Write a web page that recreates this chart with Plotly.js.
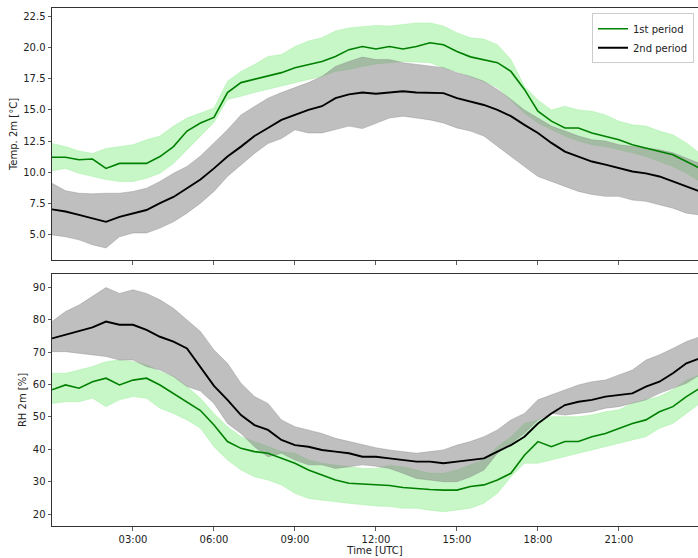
<!DOCTYPE html>
<html>
<head>
<meta charset="utf-8">
<script src="https://cdn.plot.ly/plotly-3.0.1.min.js"></script>
<style>html,body{margin:0;padding:0;background:#fff;}#chart{width:698px;height:558px;}</style>
</head>
<body>
<div id="chart"></div>
<script>
// Time of day in hours (UTC)
const hours = [0,0.5,1,1.5,2,2.5,3,3.5,4,4.5,5,5.5,6,6.5,7,7.5,8,8.5,9,9.5,10,10.5,11,11.5,12,12.5,13,13.5,14,14.5,15,15.5,16,16.5,17,17.5,18,18.5,19,19.5,20,20.5,21,21.5,22,22.5,23,23.5,24];
const tickHours = [3,6,9,12,15,18,21];
const tickLabels = ['03:00','06:00','09:00','12:00','15:00','18:00','21:00'];
const seriesNames = ['1st period','2nd period'];

// Temperature 2m [°C] - 1st period (mean, upper, lower)
const temp1Mean  = [11.2,11.2,11.0,11.05,10.3,10.7,10.7,10.7,11.25,12.05,13.3,13.95,14.4,16.4,17.2,17.45,17.7,18.0,18.4,18.65,18.9,19.3,19.85,20.1,19.9,20.1,19.9,20.1,20.4,20.25,19.7,19.27,19.05,18.8,18.1,16.65,14.9,14.1,13.55,13.55,13.15,12.9,12.6,12.2,11.95,11.65,11.4,10.85,10.3];
const temp1Upper = [12.3,12.05,11.7,11.5,11.9,12.05,12.2,12.6,12.9,13.7,14.35,14.75,15.15,17.3,18.1,18.65,19.3,19.45,20.1,20.55,20.8,21.35,21.6,21.7,21.8,21.75,21.9,22.0,22.0,21.75,21.2,20.8,20.7,20.25,19.05,16.9,15.8,15.0,15.3,15.0,14.9,14.6,14.1,13.8,13.7,13.3,13.0,12.35,11.5];
const temp1Lower = [10.1,10.3,9.9,9.65,9.4,9.25,9.25,9.5,9.9,10.7,11.8,12.9,14.0,15.85,16.1,16.4,16.65,16.9,17.2,17.45,17.7,18.1,18.25,18.5,18.7,18.8,18.9,18.85,18.8,18.4,18.1,17.7,17.3,16.8,15.8,14.75,13.95,13.4,12.9,12.5,12.2,12.05,11.8,11.55,11.25,10.85,10.45,9.9,9.25];
// Temperature 2m [°C] - 2nd period
const temp2Mean  = [7.0,6.83,6.56,6.3,6.0,6.4,6.7,6.95,7.5,8.0,8.7,9.4,10.3,11.25,12.05,12.9,13.55,14.2,14.6,15.0,15.3,15.95,16.25,16.4,16.3,16.4,16.5,16.4,16.4,16.35,15.95,15.7,15.4,15.0,14.5,13.8,13.15,12.35,11.65,11.25,10.85,10.6,10.3,10.05,9.9,9.65,9.25,8.85,8.45];
const temp2Upper = [9.1,8.5,8.3,8.25,8.3,8.3,8.45,8.7,9.25,9.9,10.45,11.3,12.35,13.4,14.6,15.3,15.95,16.4,16.8,17.2,17.7,18.5,18.9,19.25,19.05,19.05,18.8,18.65,18.5,18.4,18.0,17.7,17.3,16.65,15.85,15.0,14.35,13.7,13.3,12.9,12.6,12.5,12.2,12.05,11.95,11.8,11.55,11.1,10.7];
const temp2Lower = [4.95,4.8,4.55,4.15,3.9,4.8,5.1,5.1,5.5,6.0,6.7,7.5,8.45,9.65,10.6,11.5,12.3,12.7,13.4,13.15,13.15,13.4,13.7,13.5,13.9,14.35,14.5,14.35,14.2,13.95,13.55,13.3,12.9,12.05,11.25,10.45,9.65,9.25,8.85,8.45,8.2,8.05,8.05,7.75,7.65,7.35,7.1,6.7,6.55];

// Relative humidity 2m [%] - 1st period
const rh1Mean  = [58.4,59.9,58.9,60.9,62.0,59.9,61.4,62.0,59.9,57.3,54.7,52.0,47.5,42.4,40.3,39.3,38.8,37.2,35.7,33.6,32.1,30.5,29.5,29.3,29.0,28.8,28.2,27.8,27.6,27.4,27.4,28.5,29.0,30.5,32.6,38.2,42.4,40.8,42.4,42.4,43.9,44.9,46.5,48.0,49.1,51.6,53.2,56.3,58.9];
const rh1Upper = [63.5,63.5,64.5,65.6,67.1,67.6,67.1,66.1,64.0,62.5,59.4,55.8,51.1,47.0,43.9,42.4,40.8,39.3,38.8,36.7,35.7,35.2,34.6,34.1,34.1,35.0,34.6,33.6,32.6,32.6,33.6,35.2,36.7,40.8,43.9,48.0,49.1,50.1,50.1,50.1,50.6,51.6,52.2,54.2,55.3,56.3,58.4,61.4,63.0];
const rh1Lower = [54.2,54.7,54.7,55.8,53.2,55.3,56.3,55.8,52.7,51.1,49.1,46.5,40.8,36.7,33.6,31.5,30.5,29.0,26.4,24.8,24.3,23.8,23.3,22.8,22.5,22.3,21.8,21.8,21.2,20.7,21.2,21.8,23.3,26.4,31.5,35.7,35.7,36.7,37.7,38.8,39.8,40.8,41.9,42.9,43.9,46.5,48.0,51.1,54.2];
// Relative humidity 2m [%] - 2nd period
const rh2Mean  = [74.3,75.4,76.4,77.7,79.5,78.5,78.5,76.9,74.8,73.3,71.2,65.5,59.6,55.3,50.6,47.5,46.0,42.9,41.3,40.8,39.8,39.3,38.8,37.7,37.7,37.2,36.7,36.2,36.2,35.7,36.2,36.7,37.2,39.3,41.3,43.9,48.0,51.1,53.7,54.7,55.3,56.3,56.8,57.3,59.4,60.9,63.5,66.6,68.1];
const rh2Upper = [79.5,82.6,84.6,87.2,90.0,88.2,89.3,88.2,86.2,83.6,80.0,76.4,70.7,66.6,60.4,56.3,54.2,49.1,47.0,46.0,44.9,43.4,42.4,41.3,40.5,39.8,39.3,38.8,39.3,39.8,41.3,42.4,43.9,46.0,49.1,51.1,55.3,56.8,58.4,59.9,60.9,61.4,63.0,64.5,67.6,69.2,71.2,73.3,74.8];
const rh2Lower = [70.2,70.2,69.7,69.2,68.7,67.6,67.6,65.6,64.5,62.5,59.4,58.0,54.2,48.0,44.9,40.8,37.7,38.8,36.7,35.2,35.2,34.1,34.6,35.2,34.8,34.1,32.6,31.0,30.5,30.0,30.0,31.5,33.6,38.8,41.9,44.9,49.1,51.1,50.6,51.1,51.6,52.7,53.2,54.2,55.3,57.3,58.9,60.4,63.0];

const FONT = 'DejaVu Sans, Liberation Sans, sans-serif';
const bandGreen = 'rgba(144,238,144,0.5)';
const bandGray = 'rgba(128,128,128,0.5)';

function band(x, up, lo, color, xa, ya) {
  const xs = x.concat(x.slice().reverse());
  const ys = up.concat(lo.slice().reverse());
  return {x: xs, y: ys, xaxis: xa, yaxis: ya, type: 'scatter', mode: 'lines',
    fill: 'toself', fillcolor: color, line: {color: color, width: 0.7},
    showlegend: false, hoverinfo: 'skip'};
}
function line(x, y, color, width, name, xa, ya, show) {
  return {x: x, y: y, xaxis: xa, yaxis: ya, type: 'scatter', mode: 'lines',
    line: {color: color, width: width}, name: name, showlegend: show};
}

const data = [
  band(hours, temp1Upper, temp1Lower, bandGreen, 'x', 'y'),
  band(hours, temp2Upper, temp2Lower, bandGray, 'x', 'y'),
  line(hours, temp1Mean, 'green', 1.6, seriesNames[0], 'x', 'y', true),
  line(hours, temp2Mean, 'black', 1.9, seriesNames[1], 'x', 'y', true),
  band(hours, rh1Upper, rh1Lower, bandGreen, 'x2', 'y2'),
  band(hours, rh2Upper, rh2Lower, bandGray, 'x2', 'y2'),
  line(hours, rh1Mean, 'green', 1.6, seriesNames[0], 'x2', 'y2', false),
  line(hours, rh2Mean, 'black', 1.9, seriesNames[1], 'x2', 'y2', false)
];

const axisCommon = {
  showgrid: false, zeroline: false, showline: true, linecolor: '#333', linewidth: 1,
  ticks: 'outside', ticklen: 3.5, tickwidth: 0.8, tickcolor: '#333',
  tickfont: {family: FONT, size: 10, color: '#222'}
};

const layout = {
  width: 698, height: 558,
  margin: {l: 52, r: 0, t: 8, b: 32, pad: 0},
  paper_bgcolor: '#fff', plot_bgcolor: '#fff',
  font: {family: FONT, size: 10, color: '#222'},
  showlegend: true,
  legend: {x: 0.9938, y: 0.9898, xanchor: 'right', yanchor: 'top',
    bgcolor: 'rgba(255,255,255,0.8)', bordercolor: '#ccc', borderwidth: 1,
    font: {family: FONT, size: 10, color: '#222'}, tracegroupgap: 0},
  xaxis: Object.assign({}, axisCommon, {domain: [0, 1], range: [0, 23.93], anchor: 'y',
    tickvals: tickHours, ticktext: tickLabels, showticklabels: false, mirror: true, matches: 'x2'}),
  yaxis: Object.assign({}, axisCommon, {domain: [0.5135, 1], range: [2.93, 23.2], anchor: 'x',
    tick0: 0, dtick: 2.5, tickformat: '.1f',
    title: {text: 'Temp. 2m [°C]', font: {family: FONT, size: 10, color: '#222'}, standoff: 3}}),
  xaxis2: Object.assign({}, axisCommon, {domain: [0, 1], range: [0, 23.93], anchor: 'y2',
    tickvals: tickHours, ticktext: tickLabels, mirror: true,
    title: {text: 'Time [UTC]', font: {family: FONT, size: 10, color: '#222'}, standoff: 3}}),
  yaxis2: Object.assign({}, axisCommon, {domain: [0, 0.4865], range: [16.3, 94.2], anchor: 'x2',
    tick0: 0, dtick: 10,
    title: {text: 'RH 2m [%]', font: {family: FONT, size: 10, color: '#222'}, standoff: 4}})
};

Plotly.newPlot('chart', data, layout, {staticPlot: true, displayModeBar: false});
</script>
</body>
</html>
